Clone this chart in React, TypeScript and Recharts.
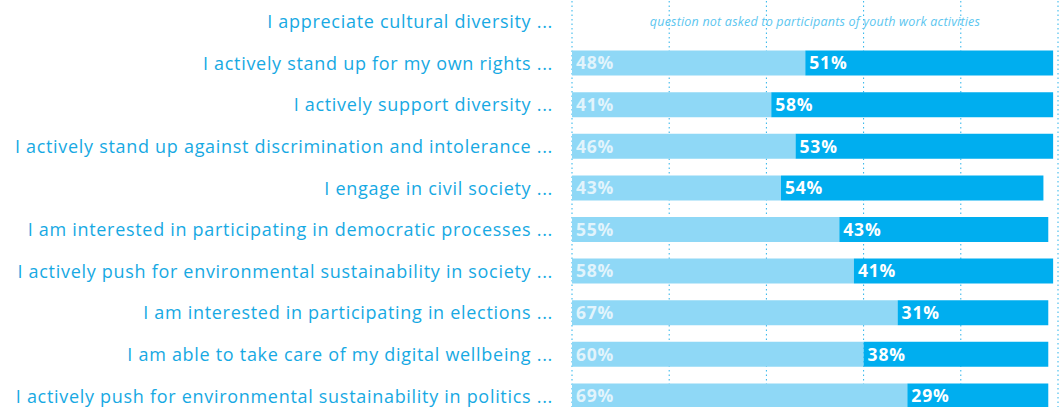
import React from 'react';
import {
  BarChart,
  Bar,
  XAxis,
  YAxis,
  CartesianGrid,
  LabelList,
  ReferenceLine,
} from 'recharts';

const categories = [
  'I appreciate cultural diversity ...',
  'I actively stand up for my own rights ...',
  'I actively support diversity ...',
  'I actively stand up against discrimination and intolerance ...',
  'I engage in civil society ...',
  'I am interested in participating in democratic processes ...',
  'I actively push for environmental sustainability in society ...',
  'I am interested in participating in elections ...',
  'I am able to take care of my digital wellbeing ...',
  'I actively push for environmental sustainability in politics ...',
];

const lightValues = [null, 48, 41, 46, 43, 55, 58, 67, 60, 69];
const darkValues = [null, 51, 58, 53, 54, 43, 41, 31, 38, 29];

const xTicks = [0, 20, 40, 60, 80, 100];
const note = 'question not asked to participants of youth work activities';

const data = categories.map((name, i) => ({
  name,
  light: lightValues[i],
  dark: darkValues[i],
}));

const pct = (v: any) => (v == null ? '' : `${v}%`);

const labelFont = '"Open Sans", sans-serif';
const blue = '#17a9e3';

export default function App() {
  return (
    <div style={{ width: 1061, height: 420 }}>
      <style>{'body{margin:0;overflow:hidden}'}</style>
      <BarChart
        width={1061}
        height={420}
        data={data}
        layout="vertical"
        barSize={25}
        margin={{ top: 1, right: 3, bottom: 3, left: 0 }}
      >
        <CartesianGrid
          horizontal={false}
          stroke="#29b3ea"
          strokeDasharray="1.5 3"
        />
        <XAxis type="number" domain={[0, 100]} ticks={xTicks} hide />
        <YAxis
          type="category"
          dataKey="name"
          width={572}
          axisLine={false}
          tickLine={false}
          tickMargin={13}
          tick={{
            fill: blue,
            fontSize: 18,
            fontFamily: labelFont,
            letterSpacing: 0.7,
          }}
        />
        <ReferenceLine
          y={categories[0]}
          stroke="none"
          label={{
            value: note,
            position: 'center',
            fill: '#5cc6ef',
            fontSize: 12.5,
            fontStyle: 'italic',
            fontFamily: labelFont,
            letterSpacing: 0.2,
          }}
        />
        <Bar dataKey="light" stackId="a" fill="#8fd8f6" isAnimationActive={false}>
          <LabelList
            dataKey="light"
            position="insideLeft"
            offset={4}
            formatter={pct}
            fill="#e2f4fc"
            fontSize={17.5}
            fontWeight={700}
            fontFamily={labelFont}
            letterSpacing={0.8}
          />
        </Bar>
        <Bar dataKey="dark" stackId="a" fill="#00aeef" isAnimationActive={false}>
          <LabelList
            dataKey="dark"
            position="insideLeft"
            offset={4}
            formatter={pct}
            fill="#ffffff"
            fontSize={17.5}
            fontWeight={700}
            fontFamily={labelFont}
            letterSpacing={0.8}
          />
        </Bar>
      </BarChart>
    </div>
  );
}
